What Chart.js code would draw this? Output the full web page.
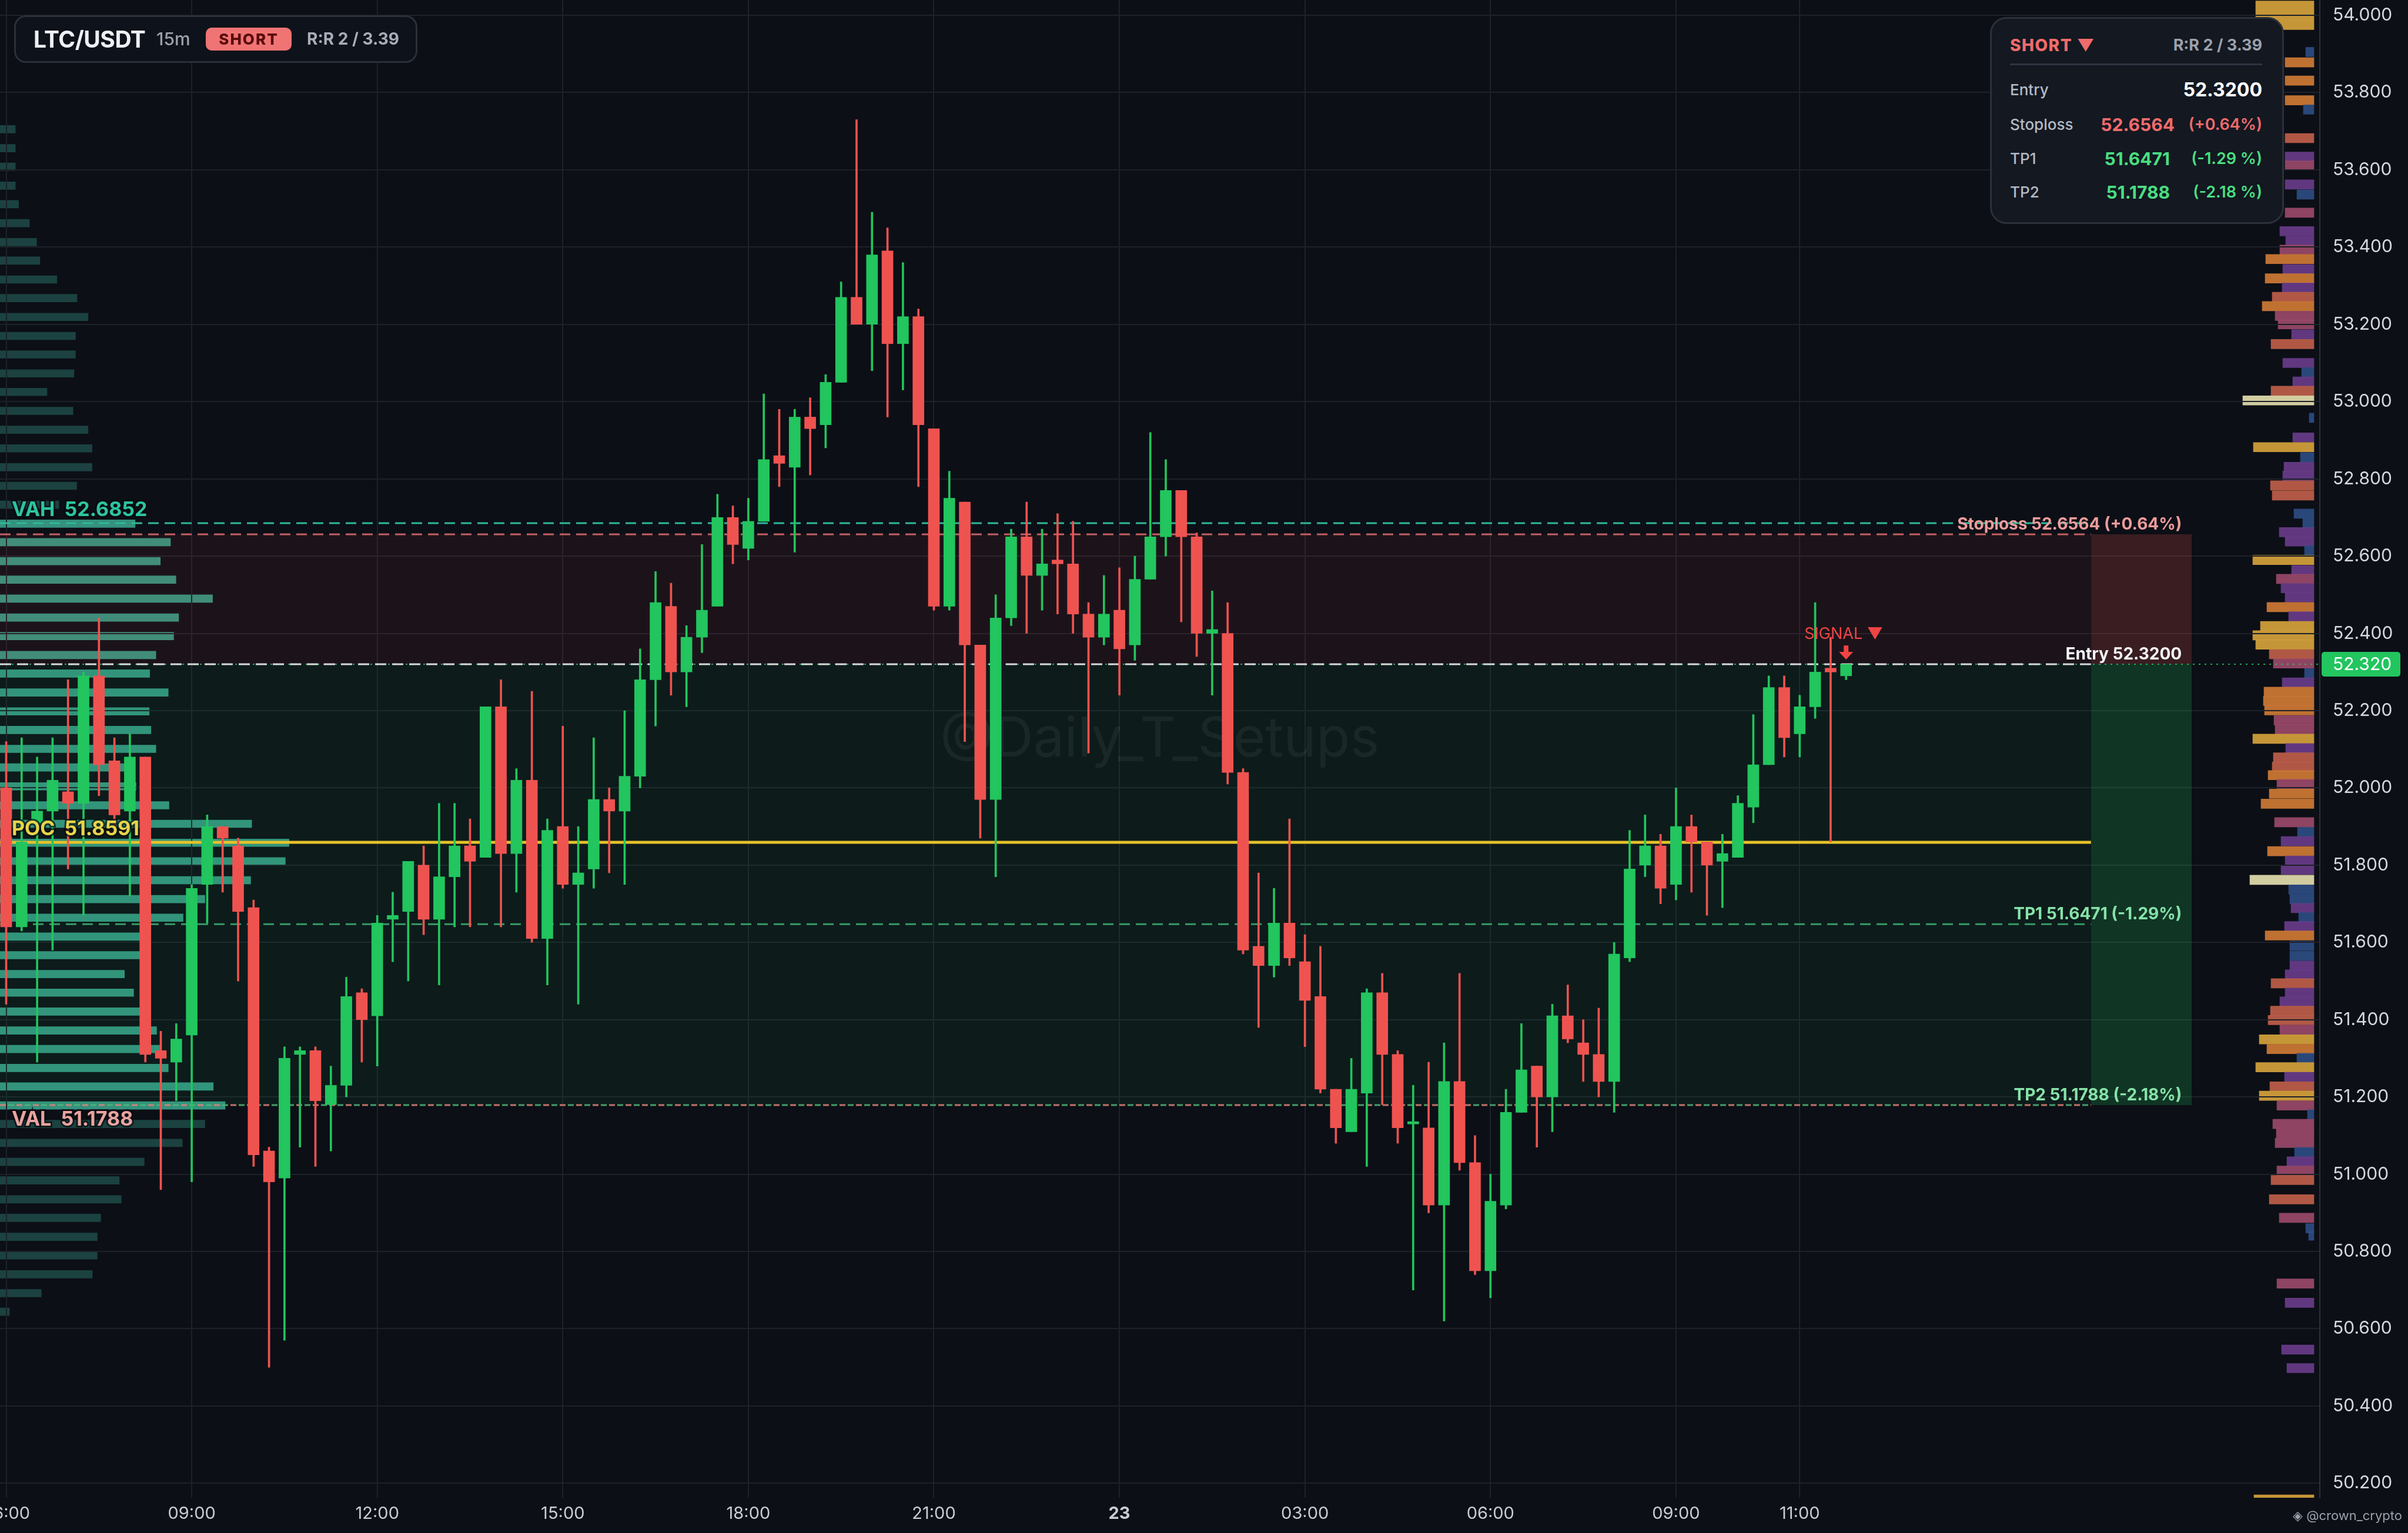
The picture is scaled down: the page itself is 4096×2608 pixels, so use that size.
<!DOCTYPE html>
<html>
<head>
<meta charset="utf-8">
<title>LTC/USDT 15m</title>
<script src="https://cdn.jsdelivr.net/npm/chart.js@4.4.1/dist/chart.umd.min.js"></script>
<style>
  html, body { margin: 0; padding: 0; background: #0c0f16; }
  #wrap { position: relative; width: 4096px; height: 2608px; overflow: hidden; font-family: Inter, "Noto Sans", sans-serif; }
  #wrap canvas { position: absolute; left: 0; top: 0; }
  .head { position: absolute; left: 24px; top: 26px; width: 686px; height: 81px; box-sizing: border-box;
          border: 3px solid #2a2f39; border-radius: 20px; background: #0e121a; }
  .head span { position: absolute; top: 0; height: 75px; line-height: 75px; white-space: nowrap; }
  .head .sym { left: 30px; font-size: 39px; font-weight: 700; color: #eef0f5; letter-spacing: -0.5px; }
  .head .tf { left: 239px; font-size: 30px; font-weight: 500; color: #9ba1ab; }
  .head .badge { left: 323px; top: 18px; width: 146px; height: 39px; line-height: 40px; text-align: center;
                 background: #f07474; color: #5a0c0c; font-size: 26px; font-weight: 800; letter-spacing: 2px; border-radius: 10px; }
  .head .rr { left: 495px; font-size: 28px; font-weight: 700; color: #a7adb7; }
  .info { position: absolute; left: 3385px; top: 29px; width: 500px; height: 352px; box-sizing: border-box;
          border: 3px solid #2b303a; border-radius: 28px; background: #131821; }
  .info .row { position: absolute; left: 31px; right: 34px; height: 40px; line-height: 40px; white-space: nowrap; }
  .info .row span { position: absolute; top: 0; }
  .info .lbl { left: 0; font-size: 26px; font-weight: 500; color: #b3b9c3; }
  .info .val { font-size: 30px; font-weight: 700; }
  .info .pct { right: 0; font-size: 27px; font-weight: 600; }
  .info .divider { position: absolute; left: 31px; right: 34px; top: 76px; height: 3px; background: #2f3540; }
  .red { color: #f06b6b; }
  .green { color: #4ade80; }
  .credit { position: absolute; right: 10px; top: 2565px; font-size: 22px; color: #9aa0aa; white-space: nowrap; }
</style>
</head>
<body>
<div id="wrap">
  <canvas id="profileChart" width="4096" height="2608"></canvas>
  <canvas id="priceChart" width="4096" height="2608"></canvas>

  <div class="head">
    <span class="sym">LTC/USDT</span>
    <span class="tf">15m</span>
    <span class="badge">SHORT</span>
    <span class="rr">R:R 2 / 3.39</span>
  </div>

  <div class="info">
    <div class="row" style="top:25px">
      <span style="left:0;font-size:28px;font-weight:800;letter-spacing:1.5px" class="red">SHORT ▼</span>
      <span style="right:0;font-size:27px;font-weight:700;color:#9ba1ab">R:R 2 / 3.39</span>
    </div>
    <div class="divider"></div>
    <div class="row" style="top:101px">
      <span class="lbl">Entry</span>
      <span style="right:0;font-size:32px;font-weight:700;color:#ffffff">52.3200</span>
    </div>
    <div class="row" style="top:160px">
      <span class="lbl">Stoploss</span>
      <span class="val red" style="right:149px">52.6564</span>
      <span class="pct red">(+0.64%)</span>
    </div>
    <div class="row" style="top:218px">
      <span class="lbl">TP1</span>
      <span class="val green" style="right:157px">51.6471</span>
      <span class="pct green">(-1.29 %)</span>
    </div>
    <div class="row" style="top:275px">
      <span class="lbl">TP2</span>
      <span class="val green" style="right:157px">51.1788</span>
      <span class="pct green">(-2.18 %)</span>
    </div>
  </div>

  <div class="credit">◈ @crown_crypto</div>
</div>

<script>
// 15m candles, 22nd 06:00 -> 23rd 11:45
const opens = [
  52.00, 51.64, 51.91, 51.94, 51.99, 51.96, 52.29, 52.07, 51.94, 52.08, 51.32, 51.29,
  51.36, 51.75, 51.90, 51.85, 51.69, 51.06, 50.99, 51.31, 51.32, 51.18, 51.23, 51.47,
  51.41, 51.66, 51.68, 51.80, 51.66, 51.77, 51.85, 51.82, 52.21, 51.83, 52.02, 51.61,
  51.90, 51.75, 51.79, 51.97, 51.94, 52.03, 52.28, 52.47, 52.30, 52.39, 52.47, 52.70,
  52.62, 52.69, 52.86, 52.83, 52.96, 52.94, 53.05, 53.27, 53.20, 53.39, 53.15, 53.22,
  52.93, 52.47, 52.74, 52.37, 51.97, 52.44, 52.65, 52.55, 52.59, 52.58, 52.45, 52.39,
  52.46, 52.37, 52.54, 52.65, 52.77, 52.65, 52.40, 52.40, 52.04, 51.59, 51.54, 51.65,
  51.55, 51.46, 51.22, 51.11, 51.21, 51.47, 51.31, 51.13, 51.12, 50.92, 51.24, 51.03,
  50.75, 50.92, 51.16, 51.28, 51.20, 51.41, 51.34, 51.31, 51.24, 51.56, 51.80, 51.85,
  51.75, 51.90, 51.86, 51.81, 51.82, 51.95, 52.06, 52.26, 52.14, 52.21, 52.31, 52.29
];
const highs = [
  52.12, 52.13, 52.08, 52.13, 52.28, 52.30, 52.44, 52.13, 52.14, 52.08, 51.37, 51.39,
  51.75, 51.93, 51.90, 51.87, 51.71, 51.07, 51.33, 51.33, 51.33, 51.28, 51.51, 51.48,
  51.67, 51.73, 51.81, 51.85, 51.96, 51.96, 51.92, 52.21, 52.28, 52.05, 52.25, 51.92,
  52.16, 51.90, 52.13, 52.00, 52.20, 52.36, 52.56, 52.53, 52.42, 52.63, 52.76, 52.73,
  52.75, 53.02, 52.98, 52.98, 53.01, 53.07, 53.31, 53.73, 53.49, 53.45, 53.36, 53.24,
  52.93, 52.82, 52.74, 52.37, 52.50, 52.67, 52.74, 52.67, 52.71, 52.69, 52.48, 52.55,
  52.57, 52.60, 52.92, 52.85, 52.77, 52.66, 52.51, 52.48, 52.05, 51.78, 51.74, 51.92,
  51.62, 51.59, 51.22, 51.30, 51.48, 51.52, 51.32, 51.23, 51.29, 51.34, 51.52, 51.10,
  51.00, 51.22, 51.39, 51.28, 51.44, 51.49, 51.40, 51.43, 51.60, 51.89, 51.93, 51.88,
  52.00, 51.93, 51.86, 51.88, 51.98, 52.19, 52.29, 52.29, 52.24, 52.48, 52.39, 52.32
];
const lows = [
  51.44, 51.63, 51.29, 51.58, 51.79, 51.67, 51.98, 51.90, 51.72, 51.29, 50.96, 51.19,
  50.98, 51.65, 51.73, 51.50, 51.02, 50.50, 50.57, 51.07, 51.02, 51.06, 51.20, 51.29,
  51.28, 51.55, 51.50, 51.62, 51.49, 51.64, 51.64, 51.82, 51.64, 51.73, 51.60, 51.49,
  51.74, 51.44, 51.74, 51.78, 51.75, 52.00, 52.16, 52.24, 52.21, 52.35, 52.47, 52.58,
  52.59, 52.69, 52.78, 52.61, 52.81, 52.88, 53.05, 53.20, 53.08, 52.96, 53.03, 52.78,
  52.46, 52.46, 52.12, 51.87, 51.77, 52.42, 52.40, 52.46, 52.45, 52.40, 52.09, 52.37,
  52.24, 52.33, 52.54, 52.60, 52.43, 52.34, 52.24, 52.01, 51.57, 51.38, 51.51, 51.54,
  51.33, 51.21, 51.08, 51.11, 51.02, 51.18, 51.08, 50.70, 50.90, 50.62, 51.01, 50.74,
  50.68, 50.91, 51.16, 51.07, 51.11, 51.34, 51.24, 51.20, 51.16, 51.55, 51.77, 51.70,
  51.71, 51.73, 51.67, 51.69, 51.82, 51.91, 52.06, 52.08, 52.08, 52.18, 51.86, 52.28
];
const closes = [
  51.64, 51.86, 51.94, 52.02, 51.96, 52.29, 52.06, 51.93, 52.08, 51.31, 51.30, 51.35,
  51.74, 51.90, 51.87, 51.68, 51.05, 50.98, 51.30, 51.32, 51.19, 51.23, 51.46, 51.40,
  51.65, 51.67, 51.81, 51.66, 51.77, 51.85, 51.81, 52.21, 51.83, 52.02, 51.61, 51.89,
  51.75, 51.78, 51.97, 51.94, 52.03, 52.28, 52.48, 52.30, 52.39, 52.46, 52.70, 52.63,
  52.69, 52.85, 52.84, 52.96, 52.93, 53.05, 53.27, 53.20, 53.38, 53.15, 53.22, 52.94,
  52.47, 52.75, 52.37, 51.97, 52.44, 52.65, 52.55, 52.58, 52.58, 52.45, 52.39, 52.45,
  52.36, 52.54, 52.65, 52.77, 52.65, 52.40, 52.41, 52.04, 51.58, 51.54, 51.65, 51.56,
  51.45, 51.22, 51.12, 51.22, 51.47, 51.31, 51.12, 51.135, 50.92, 51.24, 51.03, 50.75,
  50.93, 51.16, 51.27, 51.20, 51.41, 51.35, 51.31, 51.24, 51.57, 51.79, 51.85, 51.74,
  51.90, 51.86, 51.80, 51.83, 51.96, 52.06, 52.26, 52.13, 52.21, 52.30, 52.30, 52.32
];
const START_HOUR = 6;     // hours since 22nd 00:00
const STEP_HOURS = 0.25;

const xTickValues = [6, 9, 12, 15, 18, 21, 24, 27, 30, 33, 35];
const xTickLabels = ['06:00', '09:00', '12:00', '15:00', '18:00', '21:00', '23', '03:00', '06:00', '09:00', '11:00'];
const yTickValues = [50.2, 50.4, 50.6, 50.8, 51.0, 51.2, 51.4, 51.6, 51.8, 52.0,
                     52.2, 52.4, 52.6, 52.8, 53.0, 53.2, 53.4, 53.6, 53.8, 54.0];

// trade setup
const ENTRY = 52.32, STOP = 52.6564, TP1 = 51.6471, TP2 = 51.1788;
const VAH = 52.6852, POC = 51.8591, VAL = 51.1788;

// session volume profile (left)
const leftPrices = [
  53.705, 53.656, 53.608, 53.559, 53.511, 53.462, 53.413, 53.365, 53.316, 53.268, 53.219, 53.170,
  53.122, 53.073, 53.025, 52.976, 52.927, 52.879, 52.830, 52.782, 52.733, 52.684, 52.636, 52.587,
  52.539, 52.490, 52.441, 52.393, 52.344, 52.296, 52.247, 52.198, 52.150, 52.101, 52.053, 52.004,
  51.955, 51.907, 51.858, 51.810, 51.761, 51.712, 51.664, 51.615, 51.567, 51.518, 51.470, 51.421,
  51.372, 51.324, 51.275, 51.227, 51.178, 51.130, 51.081, 51.032, 50.984, 50.935, 50.887, 50.838,
  50.790, 50.741, 50.692, 50.644
];
const leftVolumes = [
  6.2, 6.2, 6.2, 6.2, 7.5, 11.9, 14.8, 16.1, 23.0, 31.1, 35.6, 30.5,
  30.5, 29.9, 19.0, 29.5, 35.6, 37.2, 37.2, 31.0, 23.8, 54.6, 68.9, 64.8,
  71.1, 85.9, 72.2, 70.2, 63.0, 60.5, 68.0, 60.3, 61.0, 63.0, 54.0, 55.0,
  68.3, 101.7, 116.8, 115.3, 101.3, 82.8, 74.0, 59.0, 58.5, 50.3, 54.0, 60.0,
  63.3, 64.5, 68.0, 86.2, 91.0, 82.8, 73.7, 58.3, 48.2, 49.0, 40.7, 39.3,
  39.3, 37.3, 16.7, 3.8
];

// visible range profile (right)
const rightPrices = [
  54.025, 54.000, 53.975, 53.905, 53.878, 53.831, 53.780, 53.756, 53.682, 53.634, 53.611, 53.562,
  53.536, 53.489, 53.441, 53.416, 53.393, 53.369, 53.343, 53.319, 53.295, 53.271, 53.247, 53.222,
  53.200, 53.174, 53.149, 53.100, 53.076, 53.052, 53.028, 53.003, 52.958, 52.907, 52.882, 52.856,
  52.831, 52.808, 52.783, 52.757, 52.710, 52.685, 52.662, 52.638, 52.615, 52.590, 52.564, 52.541,
  52.517, 52.493, 52.468, 52.444, 52.419, 52.395, 52.371, 52.346, 52.322, 52.297, 52.273, 52.249,
  52.225, 52.201, 52.175, 52.151, 52.127, 52.103, 52.079, 52.055, 52.033, 52.010, 51.985, 51.959,
  51.911, 51.886, 51.862, 51.836, 51.812, 51.788, 51.762, 51.737, 51.712, 51.689, 51.665, 51.642,
  51.618, 51.591, 51.565, 51.540, 51.517, 51.494, 51.470, 51.447, 51.423, 51.399, 51.374, 51.349,
  51.324, 51.301, 51.277, 51.252, 51.227, 51.203, 51.178, 51.155, 51.130, 51.106, 51.081, 51.057,
  51.033, 51.009, 50.985, 50.935, 50.887, 50.860, 50.841, 50.717, 50.667, 50.546, 50.498, 50.158
];
const rightVolumes = [
  99, 99, 99, 14, 49, 49, 49, 18, 49, 49, 49, 49,
  29, 49, 58, 48, 58, 82, 53, 83, 54, 71, 88, 66,
  61, 38, 73, 53, 21, 36, 73, 121, 8, 36, 103, 23,
  51, 53, 74, 71, 34, 19, 59, 49, 16, 104, 38, 64,
  56, 49, 80, 43, 91, 104, 99, 76, 69, 16, 54, 85,
  86, 84, 68, 66, 104, 48, 69, 71, 78, 63, 76, 90,
  67, 28, 56, 79, 49, 56, 109, 43, 41, 39, 26, 50,
  83, 41, 41, 41, 49, 73, 49, 58, 74, 78, 58, 93,
  80, 29, 99, 50, 75, 93, 63, 11, 70, 64, 66, 33,
  46, 63, 73, 76, 59, 14, 9, 63, 49, 55, 46, 102
];
const rightKinds = [
  'Y', 'Y', 'Y', 'B', 'O', 'O', 'O', 'B', 'S', 'P', 'K', 'P',
  'B', 'K', 'P', 'P', 'K', 'O', 'P', 'O', 'P', 'S', 'O', 'K',
  'K', 'P', 'S', 'P', 'B', 'P', 'S', 'C', 'B', 'P', 'Y', 'B',
  'P', 'P', 'S', 'S', 'B', 'B', 'P', 'P', 'B', 'Y', 'P', 'K',
  'P', 'P', 'O', 'P', 'Y', 'Y', 'Y', 'S', 'K', 'B', 'P', 'O',
  'O', 'O', 'K', 'K', 'Y', 'P', 'S', 'S', 'O', 'K', 'O', 'O',
  'K', 'B', 'P', 'O', 'P', 'P', 'C', 'B', 'B', 'P', 'B', 'P',
  'O', 'B', 'B', 'P', 'P', 'S', 'P', 'P', 'S', 'S', 'K', 'Y',
  'O', 'B', 'Y', 'P', 'S', 'Y', 'K', 'B', 'K', 'K', 'K', 'B',
  'P', 'K', 'S', 'S', 'K', 'B', 'B', 'K', 'P', 'P', 'P', 'Y'
];

// ---- view window ----
const X_MIN = 5.9, X_MAX = 43.41;
const Y_MIN = 50.1625, Y_MAX = 54.0396;
const BOX_START = 39.71, BOX_END = 41.34;
const AXIS_W = 150, AXIS_H = 60;

const upColor = '#22c55e';
const downColor = '#ef5350';
const gridColor = '#1d2129';
const fontFamily = 'Inter, "DejaVu Sans", sans-serif';

const times = opens.map((_, i) => START_HOUR + i * STEP_HOURS);
const candleColors = closes.map((c, i) => c >= opens[i] ? upColor : downColor);
const lastIdx = closes.length - 1;

function levelLine(label, y, x0, x1, color, dash, width, order, dashOffset) {
    return {
        type: 'line', label: label,
        data: [{ x: x0, y: y }, { x: x1, y: y }],
        borderColor: color, borderDash: dash, borderDashOffset: dashOffset || 0,
        borderWidth: width, pointRadius: 0, fill: false, order: order
    };
}

function zone(label, y, base, x0, x1, color) {
    return {
        type: 'line', label: label,
        data: [{ x: x0, y: y }, { x: x1, y: y }],
        borderWidth: 0, pointRadius: 0, fill: { value: base },
        backgroundColor: color, order: 20
    };
}

function pct(level) {
    const p = (level / ENTRY - 1) * 100;
    return (p >= 0 ? '+' : '') + p.toFixed(2) + '%';
}

const chartText = {
    id: 'chartText',
    beforeDatasetsDraw(chart) {
        const { ctx, scales: { x, y } } = chart;
        ctx.save();
        ctx.font = '94px ' + fontFamily;
        ctx.fillStyle = 'rgba(255,255,255,0.06)';
        ctx.textAlign = 'center';
        ctx.textBaseline = 'middle';
        ctx.fillText('@Daily_T_Setups', x.getPixelForValue(24.65), y.getPixelForValue(52.124));
        ctx.restore();
    },
    afterDatasetsDraw(chart) {
        const { ctx, scales: { x, y } } = chart;
        ctx.save();

        // right side level labels
        const xr = x.getPixelForValue(BOX_END) - 17;
        const rightLabels = [
            [STOP, 'Stoploss ' + STOP.toFixed(4) + ' (' + pct(STOP) + ')', '#ec9c9c'],
            [ENTRY, 'Entry ' + ENTRY.toFixed(4), '#f3f4f6'],
            [TP1, 'TP1 ' + TP1.toFixed(4) + ' (' + pct(TP1) + ')', '#86e3a8'],
            [TP2, 'TP2 ' + TP2.toFixed(4) + ' (' + pct(TP2) + ')', '#86e3a8']
        ];
        ctx.font = 'bold 28px ' + fontFamily;
        ctx.textAlign = 'right';
        ctx.textBaseline = 'alphabetic';
        rightLabels.forEach(([v, t, c]) => {
            ctx.fillStyle = c;
            ctx.fillText(t, xr, y.getPixelForValue(v) - 8);
        });

        // profile labels on the left
        const leftLabels = [
            [VAH, 'VAH  ' + VAH.toFixed(4), '#2ec4a0', -12],
            [POC, 'POC  ' + POC.toFixed(4), '#e8d44a', -12],
            [VAL, 'VAL  ' + VAL.toFixed(4), '#e8a3a0', 35]
        ];
        ctx.font = 'bold 34px ' + fontFamily;
        ctx.textAlign = 'left';
        ctx.lineWidth = 6;
        ctx.strokeStyle = 'rgba(8,10,14,0.7)';
        leftLabels.forEach(([v, t, c, dy]) => {
            const py = y.getPixelForValue(v) + dy;
            ctx.strokeText(t, 20, py);
            ctx.fillStyle = c;
            ctx.fillText(t, 20, py);
        });

        // signal marker over the last candle
        const sx = x.getPixelForValue(times[lastIdx]);
        const ey = y.getPixelForValue(ENTRY);
        ctx.fillStyle = '#ef4444';
        ctx.font = '27px ' + fontFamily;
        ctx.textAlign = 'center';
        ctx.textBaseline = 'middle';
        ctx.fillText('SIGNAL ▼', sx - 4, ey - 51);
        ctx.fillRect(sx - 4, ey - 32, 8, 12);
        ctx.beginPath();
        ctx.moveTo(sx - 12, ey - 21);
        ctx.lineTo(sx + 12, ey - 21);
        ctx.lineTo(sx, ey - 8);
        ctx.closePath();
        ctx.fill();
        ctx.restore();
    },
    afterDraw(chart) {
        const { ctx, chartArea, scales: { y } } = chart;
        const py = y.getPixelForValue(closes[lastIdx]);
        const left = chartArea.right + 3;
        ctx.save();
        ctx.fillStyle = upColor;
        ctx.beginPath();
        ctx.roundRect(left, py - 21, 134, 42, 5);
        ctx.fill();
        ctx.fillStyle = '#ffffff';
        ctx.font = '30px ' + fontFamily;
        ctx.textAlign = 'left';
        ctx.textBaseline = 'middle';
        ctx.fillText(closes[lastIdx].toFixed(3), left + 19, py + 1);
        ctx.restore();
    }
};

new Chart(document.getElementById('priceChart'), {
    type: 'bar',
    data: {
        datasets: [
            {
                type: 'bar', label: 'Body',
                data: times.map((t, i) => ({ x: t, y: [opens[i], closes[i]] })),
                backgroundColor: candleColors, borderWidth: 0,
                barThickness: 19, minBarLength: 4, grouped: false, order: 0
            },
            {
                type: 'bar', label: 'Wick',
                data: times.map((t, i) => ({ x: t, y: [lows[i], highs[i]] })),
                backgroundColor: candleColors, borderWidth: 0,
                barThickness: 3, grouped: false, order: 1
            },
            levelLine('POC', POC, X_MIN, BOX_START, '#e5c22a', [], 5, 3),
            levelLine('Entry', ENTRY, X_MIN, BOX_START, 'rgba(236,236,236,0.9)', [19, 10], 3, 4),
            levelLine('Last', closes[lastIdx], X_MIN, X_MAX, 'rgba(34,197,94,0.85)', [3, 7], 2, 5),
            levelLine('VAH', VAH, X_MIN, BOX_START, '#2fb89a', [18, 10], 3, 6),
            levelLine('Stoploss', STOP, X_MIN, BOX_START, 'rgba(226,110,110,0.85)', [18, 10], 3, 6),
            levelLine('TP1', TP1, X_MIN, BOX_START, 'rgba(60,170,110,0.9)', [18, 10], 3, 6),
            levelLine('VAL', VAL, X_MIN, BOX_START, 'rgba(226,130,120,0.85)', [10, 18], 3, 6),
            levelLine('TP2', TP2, X_MIN, BOX_START, 'rgba(80,180,120,0.85)', [10, 18], 3, 7, 14),
            zone('Risk', STOP, ENTRY, X_MIN, BOX_START, 'rgba(239,83,80,0.07)'),
            zone('Reward', TP2, ENTRY, X_MIN, BOX_START, 'rgba(34,197,94,0.07)'),
            zone('Risk box', STOP, ENTRY, BOX_START, BOX_END, 'rgba(239,83,80,0.2)'),
            zone('Reward box', TP2, ENTRY, BOX_START, BOX_END, 'rgba(34,197,94,0.21)')
        ]
    },
    options: {
        responsive: false,
        devicePixelRatio: 1,
        animation: false,
        layout: { padding: 0 },
        plugins: { legend: { display: false }, tooltip: { enabled: false } },
        scales: {
            x: {
                type: 'linear', min: X_MIN, max: X_MAX, offset: false,
                grid: { color: gridColor, lineWidth: 2, drawTicks: false, offset: false },
                border: { display: false },
                afterBuildTicks: s => { s.ticks = xTickValues.map(v => ({ value: v })); },
                afterFit: s => { s.height = AXIS_H; s.paddingLeft = 0; s.paddingRight = 0; },
                ticks: {
                    autoSkip: false, maxRotation: 0, padding: 10, color: '#c9ccd3',
                    font: c => ({ size: 29, family: fontFamily, weight: c.tick && c.tick.value === 24 ? 'bold' : 'normal' }),
                    callback: (v, i) => xTickLabels[i]
                }
            },
            y: {
                type: 'linear', position: 'right', min: Y_MIN, max: Y_MAX,
                grid: { color: gridColor, lineWidth: 2, drawTicks: false },
                border: { display: true, color: '#2b303a', width: 2 },
                afterBuildTicks: s => { s.ticks = yTickValues.map(v => ({ value: v })); },
                afterFit: s => { s.width = AXIS_W; s.paddingTop = 0; s.paddingBottom = 0; },
                ticks: {
                    padding: 22, color: '#d5d8de',
                    font: { size: 30, family: fontFamily },
                    callback: v => v.toFixed(3)
                }
            }
        }
    },
    plugins: [chartText]
});

const kindColors = {
    Y: 'rgba(214,162,60,0.92)', O: 'rgba(207,122,53,0.92)', S: 'rgba(194,96,74,0.9)',
    K: 'rgba(156,74,106,0.9)', P: 'rgba(106,61,140,0.9)', B: 'rgba(45,78,133,0.9)', C: 'rgba(228,220,174,0.92)'
};

new Chart(document.getElementById('profileChart'), {
    type: 'bar',
    data: {
        datasets: [
            {
                label: 'Session profile', xAxisID: 'xl',
                data: leftPrices.map((p, i) => ({ x: [0, leftVolumes[i]], y: p })),
                backgroundColor: leftPrices.map(p => (p <= VAH + 0.01 && p >= VAL - 0.01) ? 'rgba(58,165,140,0.88)' : 'rgba(40,110,100,0.55)'),
                barThickness: 13, grouped: false, borderWidth: 0
            },
            {
                label: 'Visible range profile', xAxisID: 'xr',
                data: rightPrices.map((p, i) => ({ x: [0, rightVolumes[i]], y: p })),
                backgroundColor: rightKinds.map(k => kindColors[k]),
                barThickness: 16, grouped: false, borderWidth: 0
            }
        ]
    },
    options: {
        indexAxis: 'y',
        responsive: false,
        devicePixelRatio: 1,
        animation: false,
        layout: { padding: { left: 0, top: 0, right: AXIS_W, bottom: AXIS_H } },
        plugins: { legend: { display: false }, tooltip: { enabled: false } },
        scales: {
            y: { type: 'linear', min: Y_MIN, max: Y_MAX, display: false, offset: false },
            xl: { type: 'linear', axis: 'x', position: 'bottom', min: 0, max: 937.5, display: false },
            xr: { type: 'linear', axis: 'x', position: 'bottom', min: -10, max: 3936, reverse: true, display: false }
        }
    }
});
</script>
</body>
</html>
